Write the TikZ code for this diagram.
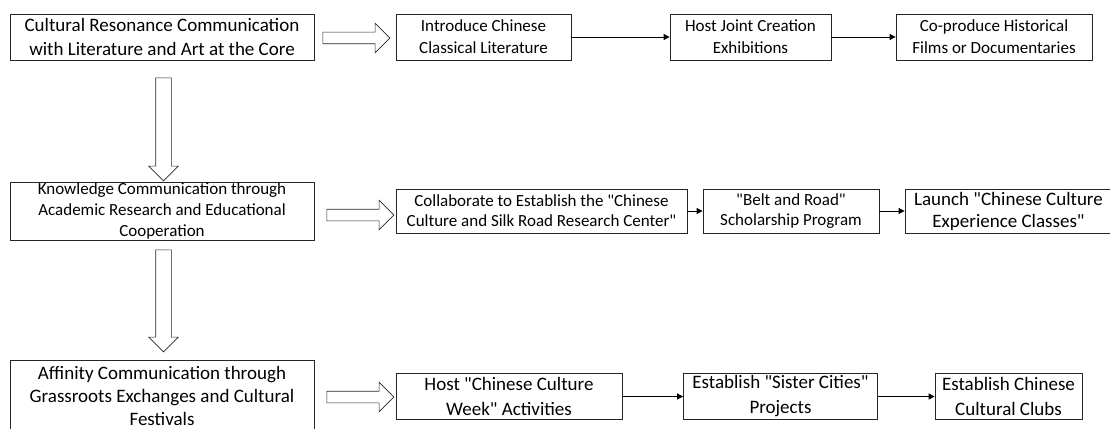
\documentclass[tikz,border=0pt]{standalone}
\usepackage{fontspec}
\setmainfont{Carlito}[Ligatures=TeXOff]
\usetikzlibrary{arrows.meta, shapes.arrows}

\begin{document}
\begin{tikzpicture}[x=1pt,y=-1pt,
	mainbox/.style={draw=black!85, line width=0.8pt, align=center, inner sep=0pt},
	subbox/.style={draw=black!85, line width=0.8pt, align=center, inner sep=0pt, minimum height=46pt},
	bigarrow/.style={single arrow, draw=black!85, line width=0.6pt, inner xsep=0pt, inner ysep=5.5pt, single arrow head extend=9pt, minimum height=67pt},
	downarrow/.style={single arrow, draw=black!85, line width=0.6pt, inner xsep=0pt, inner ysep=7.5pt, single arrow head extend=7pt, rotate=-90},
	link/.style={-{Triangle[length=6pt,width=6pt]}, line width=0.8pt}]
	\useasboundingbox (0,0) rectangle (1110,428);
	
	% first row
	\node (A1) [mainbox, minimum width=304pt, minimum height=46pt, font=\fontsize{19}{24}\selectfont] at (162,37){Cultural Resonance Communication\\with Literature and Art at the Core};
	\node (b1) [subbox, minimum width=175pt, font=\fontsize{17}{22}\selectfont] at (483.5,37){Introduce Chinese\\Classical Literature};
	\node (c1) [subbox, minimum width=161pt, font=\fontsize{17}{22}\selectfont] at (750.5,37){Host Joint Creation\\Exhibitions};
	\node (d1) [subbox, minimum width=196pt, font=\fontsize{17}{22}\selectfont] at (994,37){Co-produce Historical\\Films or Documentaries};
	\node (r1) [bigarrow] at (353.5,38){};
	\draw[link] (b1)--(c1);
	\draw[link] (c1)--(d1);
	
	\node (v1) [downarrow, minimum height=103pt] at (163.5,125.5){};
	
	% second row
	\node (A2) [mainbox, minimum width=304pt, minimum height=58pt, font=\fontsize{17}{21}\selectfont] at (162,211){Knowledge Communication through\\Academic Research and Educational\\Cooperation};
	\node (b2) [subbox, minimum width=291pt, minimum height=44pt, font=\fontsize{17}{20}\selectfont] at (541.5,211){Collaborate to Establish the "Chinese\\Culture and Silk Road Research Center"};
	\node (c2) [subbox, minimum width=176pt, minimum height=44pt, font=\fontsize{17}{20}\selectfont] at (791,211){"Belt and Road"\\Scholarship Program};
	\node (d2) [subbox, minimum width=207pt, minimum height=44pt, font=\fontsize{19}{22}\selectfont] at (1008.5,211){Launch "Chinese Culture\\Experience Classes"};
	\node (r2) [bigarrow] at (357.5,215){};
	\draw[link] (b2)--(c2);
	\draw[link] (c2)--(d2);
	
	\node (v2) [downarrow, minimum height=102pt] at (163.5,297){};
	
	% third row
	\node (A3) [mainbox, minimum width=304pt, minimum height=70pt, font=\fontsize{19}{23}\selectfont] at (162,395.5){Affinity Communication through\\Grassroots Exchanges and Cultural\\Festivals};
	\node (b3) [subbox, minimum width=226pt, font=\fontsize{19}{25}\selectfont] at (509,396.5){Host "Chinese Culture\\Week" Activities};
	\node (c3) [subbox, minimum width=194pt, font=\fontsize{19}{25}\selectfont] at (780.5,396.5){Establish "Sister Cities"\\Projects};
	\node (d3) [subbox, minimum width=147pt, font=\fontsize{19}{25}\selectfont] at (1008.5,396.5){Establish Chinese\\Cultural Clubs};
	\node (r3) [bigarrow] at (357.5,397){};
	\draw[link] (b3)--(c3);
	\draw[link] (c3)--(d3);
\end{tikzpicture}
\end{document}
